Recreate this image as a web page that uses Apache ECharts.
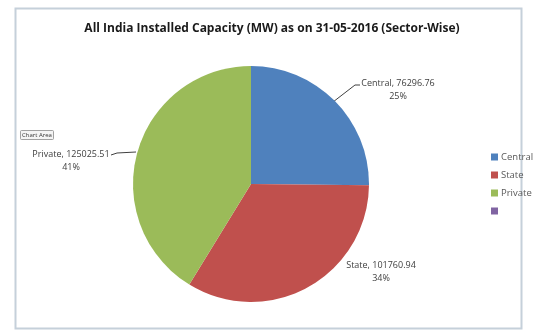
<!DOCTYPE html>
<html>
<head>
<meta charset="utf-8">
<script src="https://cdn.jsdelivr.net/npm/echarts@6/dist/echarts.min.js"></script>
<style>
  html, body { margin: 0; padding: 0; background: #fff; }
  #chart { width: 544px; height: 332px; }
</style>
</head>
<body>
<div id="chart"></div>
<script>
// Installed capacity by sector (MW)
const sectors = ['Central', 'State', 'Private', ' '];
const capacityMW = [76296.76, 101760.94, 125025.51, 0];
const sectorColors = ['#4f81bd', '#c0504d', '#9bbb59', '#8064a2'];

const chart = echarts.init(document.getElementById('chart'));

const total = capacityMW.reduce((a, b) => a + b, 0);
const pieData = sectors.map((name, i) => ({
  name: name,
  value: capacityMW[i],
  itemStyle: { color: sectorColors[i] },
  label: { show: capacityMW[i] > 0 },
  labelLine: { show: capacityMW[i] > 0 && name !== 'State' }
}));

// label centres and leader-line routes for each slice
const labelSpots = [
  { x: 398, y: 90, line: [[333, 102], [355, 85], [360, 85]] },
  { x: 381, y: 272, line: null },
  { x: 71, y: 161, line: [[111, 155], [117, 153], [136, 152]] }
];

chart.setOption({
  animation: false,
  title: {
    text: 'All India Installed Capacity (MW) as on 31-05-2016 (Sector-Wise)',
    left: 'center',
    top: 18,
    textStyle: { fontFamily: 'Open Sans', fontWeight: 'bold', fontSize: 12, color: '#1a1a1a' }
  },
  legend: {
    orient: 'vertical',
    left: 486,
    top: 147,
    itemWidth: 7,
    itemHeight: 7,
    itemGap: 8,
    icon: 'rect',
    data: sectors,
    textStyle: { fontFamily: 'Open Sans', fontSize: 9.5, color: '#595959', padding: [0, 0, 0, -2] }
  },
  graphic: [
    {
      type: 'rect',
      shape: { x: 15.5, y: 8.5, width: 506, height: 320 },
      style: { fill: 'none', stroke: '#c5d0da', lineWidth: 2 },
      z: -1
    },
    {
      type: 'rect',
      shape: { x: 20.5, y: 130.5, width: 33, height: 9, r: 1 },
      style: { fill: '#f4f4f4', stroke: '#8a8a8a', lineWidth: 0.8 }
    },
    {
      type: 'text',
      x: 37, y: 135,
      style: { text: 'Chart Area', fontSize: 6, fontFamily: 'Open Sans', fill: '#333', align: 'center', verticalAlign: 'middle' }
    }
  ],
  series: [{
    type: 'pie',
    center: [251, 184],
    radius: 118,
    startAngle: 90,
    clockwise: true,
    data: pieData,
    label: {
      formatter: p => p.name + ', ' + p.value.toFixed(2) + '\n' + Math.round(p.value / total * 100) + '%',
      fontFamily: 'Open Sans',
      fontSize: 9,
      lineHeight: 13,
      color: '#404040',
      align: 'center'
    },
    labelLine: { lineStyle: { color: '#404040', width: 1 }, length: 10, length2: 8 },
    labelLayout: function (params) {
      const s = labelSpots[params.dataIndex];
      if (!s) return {};
      const out = { x: s.x, y: s.y, align: 'center', verticalAlign: 'middle' };
      if (s.line) out.labelLinePoints = s.line;
      return out;
    },
    emphasis: { disabled: true }
  }]
});
</script>
</body>
</html>
